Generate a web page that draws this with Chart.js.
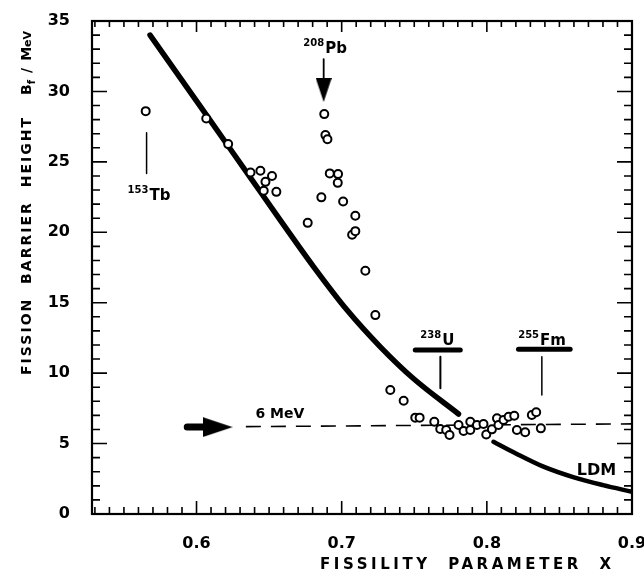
<!DOCTYPE html>
<html>
<head>
<meta charset="utf-8">
<script src="https://cdn.jsdelivr.net/npm/chart.js@4/dist/chart.umd.min.js"></script>
<style>
  body { margin: 0; background: #fff; }
  #wrap { width: 644px; height: 578px; }
</style>
</head>
<body>
<div id="wrap"><canvas id="chart" width="644" height="578"></canvas></div>
<script>
// measured barriers (open circles)
const fissility = [0.565, 0.6067, 0.6218, 0.6372, 0.644, 0.652, 0.6475, 0.6463, 0.655,
  0.688, 0.6888, 0.6902, 0.6918, 0.6975, 0.6973, 0.686, 0.701, 0.6766, 0.7094, 0.7072, 0.7094,
  0.7163, 0.7232, 0.7335, 0.7427, 0.7507, 0.7537, 0.7638, 0.7679, 0.772, 0.7743, 0.7805, 0.784,
  0.7886, 0.7886, 0.7932, 0.7977, 0.7996, 0.8035, 0.807, 0.808, 0.8115, 0.815, 0.8189, 0.8207,
  0.8264, 0.831, 0.834, 0.8372];
const barrier = [28.6, 28.08, 26.26, 24.25, 24.37, 23.99, 23.58, 22.95, 22.87,
  28.39, 26.9, 26.6, 24.18, 24.13, 23.51, 22.48, 22.19, 20.67, 21.17, 19.82, 20.08,
  17.27, 14.12, 8.8, 8.04, 6.84, 6.84, 6.55, 6.03, 5.96, 5.61, 6.32, 5.89,
  6.55, 5.96, 6.32, 6.39, 5.65, 6.01, 6.79, 6.32, 6.67, 6.9, 6.98, 5.96,
  5.8, 7.03, 7.22, 6.08];

// liquid drop model curve (two pieces)
const ldmUpperX = [0.568, 0.607, 0.637, 0.6578, 0.6807, 0.7037, 0.7266, 0.7496, 0.7805];
const ldmUpperB = [34.0, 28.3, 23.9, 20.85, 17.55, 14.48, 11.87, 9.6, 7.1];
const ldmLowerX = [0.8046, 0.82, 0.839, 0.86, 0.88, 0.9];
const ldmLowerB = [5.13, 4.3, 3.36, 2.6, 2.05, 1.58];

// 6 MeV reference line
const refX = [0.634, 0.9];
const refB = [6.2, 6.4];

const xTicks = [0.6, 0.7, 0.8, 0.9];
const yTicks = [0, 5, 10, 15, 20, 25, 30, 35];

// markers
const pbArrowX = [0.6876, 0.6876], pbArrowB = [32.3, 30.8], pbHeadB = 30.1;
const mevArrowX = [0.5936, 0.612], mevArrowB = [6.17, 6.17], mevHeadX = 0.6145;
const tbLineX = [0.5656, 0.5656], tbLineB = [27.06, 24.18];
const uBarX = [0.7507, 0.7817], uBarB = [11.64, 11.64];
const uLineX = [0.768, 0.768], uLineB = [11.16, 8.92];
const fmBarX = [0.8218, 0.8574], fmBarB = [11.7, 11.7];
const fmLineX = [0.8379, 0.8379], fmLineB = [11.16, 8.45];

// isotope labels
const isoMass = ['208', '153', '238', '255'];
const isoSym = ['Pb', 'Tb', 'U', 'Fm'];
const isoX = [0.6736, 0.5525, 0.7542, 0.8216];
const isoB = [32.7, 22.3, 12.0, 12.0];

const pts = (xs, ys) => xs.map((x, i) => ({ x: x, y: ys[i] }));
const FONT = '"DejaVu Sans", sans-serif';

function head(w, h, dir) {
  const c = document.createElement('canvas');
  c.width = w; c.height = h;
  const g = c.getContext('2d');
  g.fillStyle = '#000';
  g.beginPath();
  if (dir === 'right') { g.moveTo(0, 0); g.lineTo(w, h / 2); g.lineTo(0, h); }
  else { g.moveTo(0, 0); g.lineTo(w, 0); g.lineTo(w / 2, h); }
  g.closePath();
  g.fill();
  return c;
}

function lineSet(data, width, extra) {
  return Object.assign({
    data: data, showLine: true, pointRadius: 0, borderColor: '#000',
    borderWidth: width, borderCapStyle: 'round', fill: false
  }, extra || {});
}

function spaced(ctx, text, x, y, target) {
  ctx.letterSpacing = '0px';
  const w = ctx.measureText(text).width;
  const sp = Math.max(0, (target - w) / (text.length - 1));
  ctx.letterSpacing = sp + 'px';
  ctx.fillText(text, x, y);
  ctx.letterSpacing = '0px';
}

const frame = {
  id: 'frame',
  afterDatasetsDraw(chart) {
    const { ctx, chartArea: a, scales: { x, y } } = chart;
    ctx.save();
    ctx.strokeStyle = '#000';
    ctx.fillStyle = '#000';
    ctx.lineWidth = 2.2;
    ctx.strokeRect(a.left, a.top, a.right - a.left, a.bottom - a.top);

    ctx.lineWidth = 1.6;
    ctx.beginPath();
    for (let k = 53; k <= 89; k++) {
      const px = x.getPixelForValue(k / 100);
      const major = k % 10 === 0;
      ctx.moveTo(px, a.bottom); ctx.lineTo(px, a.bottom - (major ? 13 : 7));
      ctx.moveTo(px, a.top); ctx.lineTo(px, a.top + (major ? 11 : 6));
    }
    for (let v = 1; v <= 34; v++) {
      const py = y.getPixelForValue(v);
      const major = v % 5 === 0;
      ctx.moveTo(a.left, py); ctx.lineTo(a.left + (major ? 15 : 8), py);
      ctx.moveTo(a.right, py); ctx.lineTo(a.right - (major ? 15 : 8), py);
    }
    ctx.stroke();

    // isotope labels
    ctx.textBaseline = 'alphabetic';
    ctx.textAlign = 'left';
    isoMass.forEach((m, i) => {
      const px = x.getPixelForValue(isoX[i]);
      const py = y.getPixelForValue(isoB[i]);
      ctx.font = 'bold 10px ' + FONT;
      ctx.fillText(m, px, py - 7);
      const w = ctx.measureText(m).width;
      ctx.font = 'bold 15px ' + FONT;
      ctx.fillText(isoSym[i], px + w + 1, py);
    });

    ctx.font = 'bold 14px ' + FONT;
    ctx.fillText('6 MeV', x.getPixelForValue(0.6406), y.getPixelForValue(6.8));
    ctx.font = 'bold 16px ' + FONT;
    ctx.fillText('LDM', x.getPixelForValue(0.862), y.getPixelForValue(2.8));

    // axis titles
    ctx.font = 'bold 15px ' + FONT;
    ctx.textAlign = 'left';
    ctx.textBaseline = 'middle';
    spaced(ctx, 'FISSILITY  PARAMETER  X', 320, 565, 291);

    ctx.save();
    ctx.translate(27, 375);
    ctx.rotate(-Math.PI / 2);
    ctx.font = 'bold 14px ' + FONT;
    spaced(ctx, 'FISSION  BARRIER  HEIGHT', 0, 0, 257);
    let cx = 280;
    ctx.font = 'bold 14px ' + FONT;
    ctx.fillText('B', cx, 0);
    cx += ctx.measureText('B').width;
    ctx.font = 'bold 10px ' + FONT;
    ctx.fillText('f', cx, 5);
    cx += ctx.measureText('f').width + 7;
    ctx.font = 'bold 14px ' + FONT;
    ctx.fillText('/', cx, 0);
    cx += ctx.measureText('/').width + 7;
    ctx.fillText('M', cx, 0);
    cx += ctx.measureText('M').width;
    ctx.font = 'bold 11px ' + FONT;
    ctx.fillText('eV', cx, 1);
    ctx.restore();

    ctx.restore();
  }
};

new Chart(document.getElementById('chart'), {
  type: 'scatter',
  data: {
    datasets: [
      {
        data: pts(fissility, barrier),
        pointRadius: 4,
        pointBorderWidth: 2,
        pointBorderColor: '#000',
        pointBackgroundColor: '#fff',
        showLine: false
      },
      lineSet(pts(ldmUpperX, ldmUpperB), 5.5, { cubicInterpolationMode: 'monotone' }),
      lineSet(pts(ldmLowerX, ldmLowerB), 4.5, { cubicInterpolationMode: 'monotone' }),
      lineSet(pts(refX, refB), 1.6, { borderDash: [15, 10], borderCapStyle: 'butt' }),
      lineSet(pts(pbArrowX, pbArrowB), 1.8),
      {
        data: [{ x: pbArrowX[0], y: pbHeadB }],
        pointStyle: head(16, 24, 'down'), pointRadius: 5
      },
      lineSet(pts(mevArrowX, mevArrowB), 7),
      {
        data: [{ x: mevHeadX, y: mevArrowB[0] }],
        pointStyle: head(30, 20, 'right'), pointRadius: 5
      },
      lineSet(pts(tbLineX, tbLineB), 1.5),
      lineSet(pts(uBarX, uBarB), 5),
      lineSet(pts(uLineX, uLineB), 2),
      lineSet(pts(fmBarX, fmBarB), 5),
      lineSet(pts(fmLineX, fmLineB), 1.5)
    ]
  },
  options: {
    responsive: false,
    animation: false,
    layout: { padding: { top: 21, right: 12, left: 0, bottom: 0 } },
    plugins: { legend: { display: false }, tooltip: { enabled: false } },
    scales: {
      x: {
        type: 'linear',
        min: 0.528,
        max: 0.9,
        afterBuildTicks: s => { s.ticks = xTicks.map(v => ({ value: v })); },
        afterFit: s => { s.height = 64; s.paddingLeft = 0; s.paddingRight = 0; },
        grid: { display: false },
        border: { display: false },
        ticks: {
          color: '#000',
          font: { family: FONT, size: 16, weight: 'bold' },
          padding: 12,
          maxRotation: 0,
          autoSkip: false,
          callback: v => v.toFixed(1)
        }
      },
      y: {
        min: 0,
        max: 35,
        afterBuildTicks: s => { s.ticks = yTicks.map(v => ({ value: v })); },
        afterFit: s => { s.width = 92; s.paddingTop = 0; s.paddingBottom = 0; },
        grid: { display: false },
        border: { display: false },
        ticks: {
          color: '#000',
          font: { family: FONT, size: 16, weight: 'bold' },
          padding: 14
        }
      }
    }
  },
  plugins: [frame]
});
</script>
</body>
</html>
